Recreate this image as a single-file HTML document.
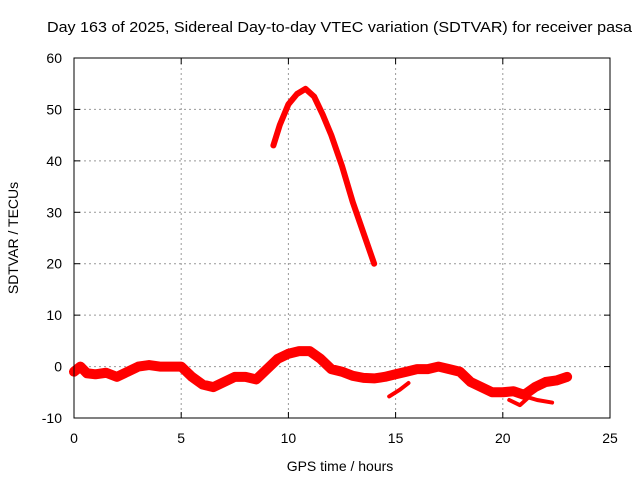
<!DOCTYPE html>
<html><head><meta charset="utf-8"><style>
body{margin:0;background:#fff}
svg{font-family:"Liberation Sans",sans-serif}
</style></head><body>
<svg id="c" width="640" height="480">
<text x="47" y="32" textLength="585" lengthAdjust="spacingAndGlyphs" font-size="15">Day 163 of 2025, Sidereal Day-to-day VTEC variation (SDTVAR) for receiver pasa</text>
<text x="340" y="471" text-anchor="middle" font-size="14">GPS time / hours</text>
<text transform="translate(18,238) rotate(-90)" text-anchor="middle" font-size="14">SDTVAR / TECUs</text>
<g id="grid"></g><g id="ticks"></g><g id="series"></g>
<rect x="74" y="58" width="536" height="360" fill="none" stroke="#000" stroke-width="1"/>
</svg>
<script>
const xTicks=[0,5,10,15,20,25];
const yTicks=[-10,0,10,20,30,40,50,60];
const arcX=[9.3,9.6,10,10.4,10.8,11.2,11.6,12,12.5,13,13.5,14];
const arcY=[43,47,51,53,54,52.5,49,45,39,32,26,20];
const bandX=[0,0.3,0.6,1,1.5,2,2.5,3,3.5,4,4.5,5,5.5,6,6.5,7,7.5,8,8.5,9,9.5,10,10.5,11,11.5,12,12.5,13,13.5,14,14.5,15,15.5,16,16.5,17,17.5,18,18.5,19,19.5,20,20.5,21,21.5,22,22.5,23];
const bandY=[-1,0,-1.3,-1.5,-1.2,-2,-1,0,0.3,0,0,0,-2,-3.5,-4,-3,-2,-2,-2.5,-0.5,1.5,2.5,3,3,1.5,-0.5,-1,-1.8,-2.2,-2.3,-2,-1.5,-1,-0.5,-0.5,0,-0.5,-1,-3,-4,-5,-5,-4.8,-5.5,-4,-3,-2.7,-2];
const br1X=[14.7,15.2,15.6];const br1Y=[-5.8,-4.5,-3.2];
const br2X=[20.3,20.8,21.2,21.6,22.3];const br2Y=[-6.5,-7.5,-6,-6.5,-7];
const xs=v=>74+v/25*536, ys=v=>418-(v+10)/70*360;
const NS='http://www.w3.org/2000/svg';
const g=document.getElementById('grid'),t=document.getElementById('ticks'),s=document.getElementById('series');
function mk(tag,at,p){const e=document.createElementNS(NS,tag);for(const k in at)e.setAttribute(k,at[k]);p.appendChild(e);return e;}
xTicks.forEach(v=>{const x=xs(v);
 if(v>0&&v<25){const l=mk('line',{x1:x,x2:x,y1:58,y2:418,stroke:'#999','stroke-dasharray':'2,3'},g);
 
 }
 mk('line',{x1:x,x2:x,y1:418,y2:412,stroke:'#000'},t);mk('line',{x1:x,x2:x,y1:58,y2:64,stroke:'#000'},t);
 const tx=mk('text',{x:x,y:443,'text-anchor':'middle','font-size':14},t);tx.textContent=v;
 
 });
yTicks.forEach(v=>{const y=ys(v);
 if(v>-10&&v<60){const l=mk('line',{x1:74,x2:610,y1:y,y2:y,stroke:'#999','stroke-dasharray':'2,3'},g);
 
 }
 mk('line',{x1:74,x2:80,y1:y,y2:y,stroke:'#000'},t);mk('line',{x1:604,x2:610,y1:y,y2:y,stroke:'#000'},t);
 const tx=mk('text',{x:62,y:y+5,'text-anchor':'end','font-size':14},t);tx.textContent=v;
 
 });
function line(X,Y,w,name){const p=mk('polyline',{points:X.map((x,i)=>xs(x)+','+ys(Y[i])).join(' '),fill:'none',stroke:'#f00','stroke-width':w,'stroke-linejoin':'round','stroke-linecap':'round'},s);
 
 }
line(arcX,arcY,6,'sdtvar-arc');
line(bandX,bandY,10,'sdtvar-band');
line(br1X,br1Y,4,'sdtvar-branch-1');
line(br2X,br2Y,4,'sdtvar-branch-2');
</script>
</body></html>
